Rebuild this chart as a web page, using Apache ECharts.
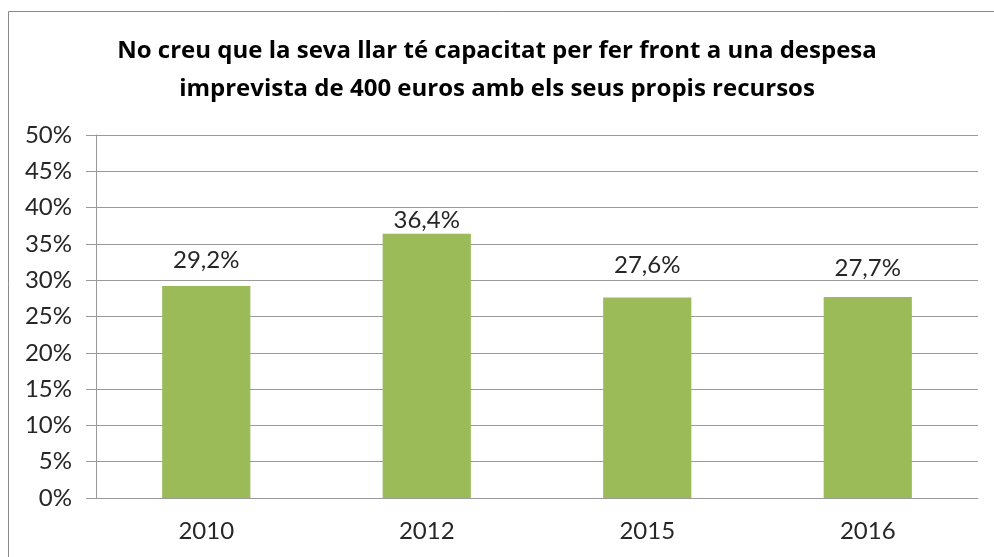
<!DOCTYPE html>
<html>
<head>
<meta charset="utf-8">
<script src="https://cdn.jsdelivr.net/npm/echarts@6/dist/echarts.min.js"></script>
<style>
  html, body { margin: 0; padding: 0; background: #fff; }
  #chart { width: 994px; height: 557px; }
</style>
</head>
<body>
<div id="chart"></div>
<script>
// Share of households unable to face an unexpected 400 euro expense
const years = ['2010', '2012', '2015', '2016'];
const shares = [29.2, 36.4, 27.6, 27.7];
const titleLines = [
  'No creu que la seva llar té capacitat per fer front a una despesa',
  'imprevista de 400 euros amb els seus propis recursos'
];

const FONT = 'Lato';
const LABEL_SIZE = 24;
const fmt = v => v.toFixed(1).replace('.', ',') + '%';

// gap between each bar top and its value label (labels were nudged by hand)
const labelGap = [14, 1, 20, 17];

const chart = echarts.init(document.getElementById('chart'));
chart.setOption({
  animation: false,
  backgroundColor: '#ffffff',
  textStyle: { fontFamily: FONT },
  title: {
    text: titleLines.join('\n'),
    left: 'center',
    top: 27,
    textStyle: {
      fontFamily: 'Open Sans',
      fontWeight: 'bold',
      fontSize: 24,
      lineHeight: 38,
      color: '#000000'
    }
  },
  graphic: [{
    type: 'rect',
    shape: { x: 8.5, y: 11.5, width: 1000, height: 600 },
    style: { fill: 'none', stroke: '#8a8a8a', lineWidth: 1 },
    silent: true
  }],
  grid: { left: 96, right: 16, top: 135, bottom: 59 },
  xAxis: {
    type: 'category',
    data: years,
    axisLine: { show: true, lineStyle: { color: '#9a9a9a', width: 1 } },
    axisTick: { show: false },
    axisLabel: { color: '#262626', fontSize: LABEL_SIZE, margin: 21, fontFamily: FONT }
  },
  yAxis: {
    type: 'value',
    min: 0,
    max: 50,
    interval: 5,
    axisLine: { show: true, lineStyle: { color: '#9a9a9a', width: 1 } },
    axisTick: { show: true, length: 10, lineStyle: { color: '#9a9a9a' } },
    axisLabel: { formatter: '{value}%', color: '#262626', fontSize: LABEL_SIZE, margin: 24, fontFamily: FONT },
    splitLine: { show: true, lineStyle: { color: '#9a9a9a', width: 1 } }
  },
  series: [{
    type: 'bar',
    data: shares.map((v, i) => ({ value: v, label: { distance: labelGap[i] } })),
    barWidth: '40%',
    itemStyle: { color: '#9bbb59' },
    label: {
      show: true,
      position: 'top',
      formatter: p => fmt(p.value),
      color: '#262626',
      fontSize: LABEL_SIZE,
      fontFamily: FONT
    }
  }]
});
</script>
</body>
</html>
